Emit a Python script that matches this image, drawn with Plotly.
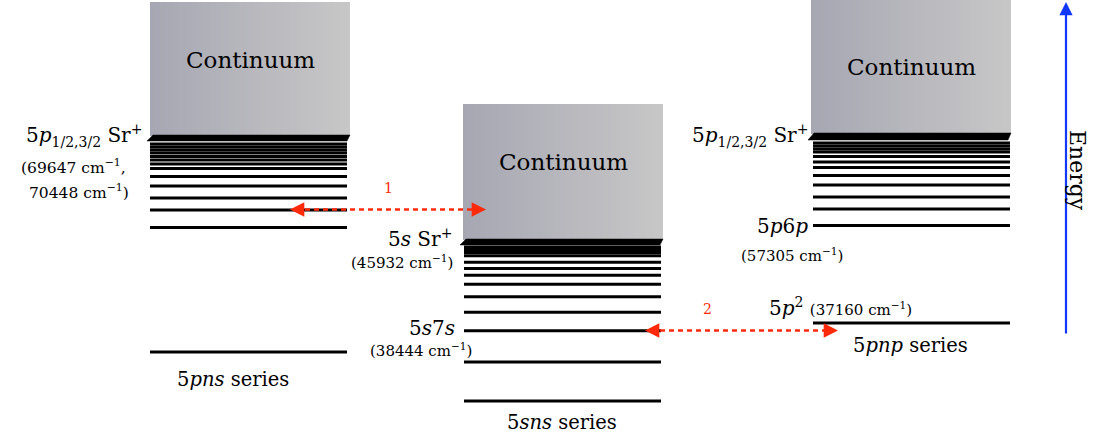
import numpy as np
import plotly.graph_objects as go

# ---------------- data (diagram heights, energy grows upward) ----------------
series_names = ["5pns series", "5sns series", "5pnp series"]
pns_levels = [294, 291, 288, 285, 281.5, 278, 274, 269.5, 261.5, 252, 240, 228, 210.5, 86]
sns_levels = [191, 188.5, 185.5, 182.3, 175.8, 169.4, 162.8, 153.8, 141.2, 125.7, 107.2, 76, 37]
pnp_levels = [295, 292, 289, 286, 281.5, 276, 270.5, 262.5, 253, 241, 229, 212.5, 115]
thresholds = [(297, 303), (193, 199), (298, 305)]   # ion limit band (bottom, top)
continuum_tops = [436, 334, 438]
transition_1 = (228.5, "1")   # 5pns level <-> 5sns continuum
transition_2 = (107.5, "2")   # 5s7s <-> 5p^2

# ---------------- layout constants ----------------
W, H = 1097, 438
cols = [(150, 347), (464, 661), (813, 1010)]
boxes = [(150, 350), (463, 663), (811, 1011)]
serif = "DejaVu Serif"
BLACK = "black"
RED = "#ff2a0a"
BLUE = "#1238ff"

fig = go.Figure()

# continuum gradient boxes
for (bx0, bx1), (tb, tt), top in zip(boxes, thresholds, continuum_tops):
    xe = np.linspace(bx0, bx1, 121)
    fig.add_trace(go.Heatmap(
        x=xe, y=[tt - 0.5, top], z=[np.linspace(0, 1, 120)],
        colorscale=[[0, "rgb(167,167,179)"], [1, "rgb(199,199,199)"]],
        showscale=False, hoverinfo="skip", zsmooth=False))

# threshold slabs (black slanted bands)
for (bx0, bx1), (tb, tt) in zip(boxes, thresholds):
    fig.add_trace(go.Scatter(
        x=[bx0 - 3, bx0 + 3, bx1, bx1 - 3, bx0 - 3],
        y=[tb, tt, tt, tb, tb], fill="toself", fillcolor=BLACK,
        mode="lines", line=dict(color=BLACK, width=0.5),
        hoverinfo="skip", showlegend=False))

# level lines
for (lx0, lx1), levels in zip(cols, [pns_levels, sns_levels, pnp_levels]):
    xs, ys = [], []
    for lv in levels:
        xs += [lx0, lx1, None]
        ys += [lv, lv, None]
    fig.add_trace(go.Scatter(x=xs, y=ys, mode="lines",
                             line=dict(color=BLACK, width=3),
                             hoverinfo="skip", showlegend=False))

# dashed transition arrows
arrows = [(290, 486, transition_1), (645, 838, transition_2)]
label_x = [388, 707]
for (ax0, ax1, (yv, lab)), lx in zip(arrows, label_x):
    fig.add_trace(go.Scatter(x=[ax0 + 6, ax1 - 6], y=[yv, yv], mode="lines",
                             line=dict(color=RED, width=2.5, dash="5px,4px"),
                             hoverinfo="skip", showlegend=False))
    for tip, tail in [(ax0, ax0 + 8), (ax1, ax1 - 8)]:
        fig.add_annotation(x=tip, y=yv, ax=tail, ay=yv, axref="x", ayref="y",
                           xref="x", yref="y", showarrow=True, arrowhead=2,
                           arrowsize=1.3, arrowwidth=2.2, arrowcolor=RED,
                           standoff=0, text="")
    fig.add_annotation(x=lx, y=yv + 22, text=lab, showarrow=False,
                       font=dict(family=serif, size=14, color=RED))

# energy axis arrow
fig.add_annotation(x=1066, y=436, ax=1066, ay=103, axref="x", ayref="y",
                   xref="x", yref="y", showarrow=True, arrowhead=2,
                   arrowsize=1.2, arrowwidth=2.2, arrowcolor=BLUE, standoff=0, text="")
fig.add_annotation(x=1078, y=268, text="Energy", textangle=90, showarrow=False,
                   font=dict(family=serif, size=22, color=BLACK))

def txt(x, y, s, size, anchor="center"):
    fig.add_annotation(x=x, y=y, text=s, showarrow=False, xanchor=anchor,
                       yanchor="middle", font=dict(family=serif, size=size, color=BLACK))

# continuum labels
for (bx0, bx1), yv in zip(boxes, [378, 276, 371]):
    txt((bx0 + bx1) / 2, yv, "Continuum", 23)

cm = "cm<sup>−1</sup>"
txt(144, 303, "5<i>p</i><sub>1/2,3/2</sub> Sr<sup>+</sup>", 20, "right")
txt(73, 272, f"(69647 {cm},", 15.5)
txt(79, 247, f"70448 {cm})", 15.5)
txt(454, 200, "5<i>s</i> Sr<sup>+</sup>", 20, "right")
txt(402, 176, f"(45932 {cm})", 15)
txt(457, 110, "5<i>s</i>7<i>s</i>", 20, "right")
txt(421, 88, f"(38444 {cm})", 15)
txt(810, 303, "5<i>p</i><sub>1/2,3/2</sub> Sr<sup>+</sup>", 20, "right")
txt(810, 212, "5<i>p</i>6<i>p</i>", 20, "right")
txt(792, 183, f"(57305 {cm})", 15)
txt(840, 131, f"5<i>p</i><sup>2</sup> <span style='font-size:15px'>(37160 {cm})</span>", 20)
txt(910, 93, "5<i>pnp</i> series", 19.5)
txt(233, 59, "5<i>pns</i> series", 19.5)
txt(562, 16, "5<i>sns</i> series", 19.5)

fig.update_layout(
    width=W, height=H, margin=dict(l=0, r=0, t=0, b=0),
    paper_bgcolor="white", plot_bgcolor="white", showlegend=False,
    xaxis=dict(range=[0, W], visible=False, fixedrange=True),
    yaxis=dict(range=[0, H], visible=False, fixedrange=True),
)
fig.write_html("out.html")
